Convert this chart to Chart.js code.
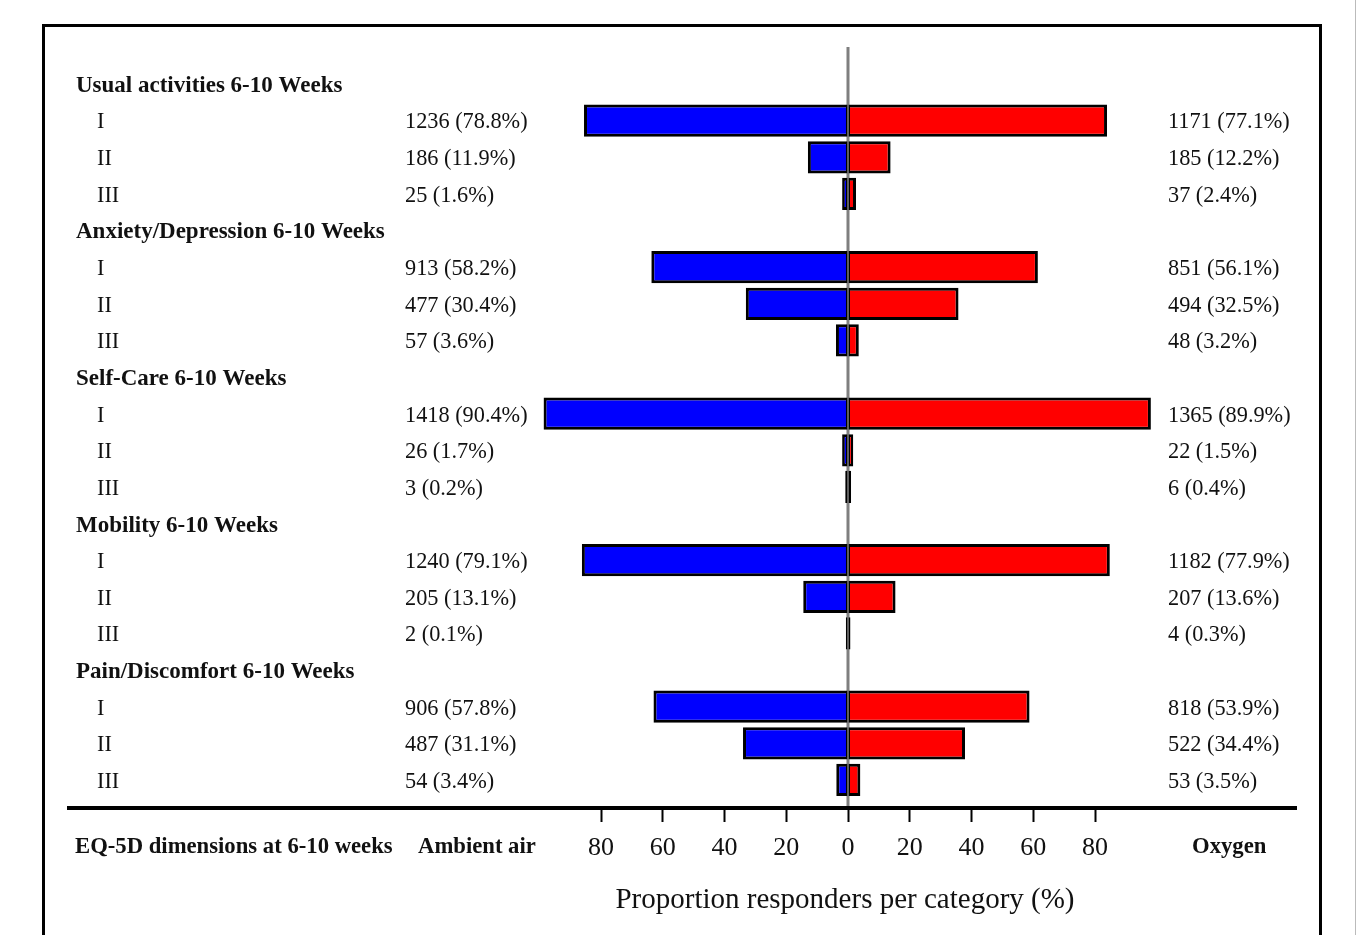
<!doctype html>
<html lang="en">
<head>
<meta charset="utf-8">
<title>EQ-5D dimensions at 6-10 weeks</title>
<script src="https://cdn.jsdelivr.net/npm/chart.js"></script>
<style>
  body { margin: 0; background: #fff; width: 1357px; height: 935px; overflow: hidden; position: relative; }
  #frame { position: absolute; left: 42px; top: 24px; width: 1274px; height: 1000px; border: 3px solid #000; }
  #edge { position: absolute; left: 1355px; top: 0; width: 1px; height: 935px; background: #bbb; }
  canvas { position: absolute; left: 0; top: 0; }
</style>
</head>
<body>
<div id="frame"></div>
<div id="edge"></div>
<canvas id="chart" width="1357" height="935"></canvas>
<script>
const dimensions = ['Usual activities 6-10 Weeks', 'Anxiety/Depression 6-10 Weeks', 'Self-Care 6-10 Weeks', 'Mobility 6-10 Weeks', 'Pain/Discomfort 6-10 Weeks'];
const levels = ['I', 'II', 'III'];
// bar lengths (% of responders per category)
const ambientBars = [85.5, 13.0, 1.9, 63.7, 33.1, 3.9, 98.6, 1.9, 0.9, 86.2, 14.5, 0.7, 63.0, 34.0, 3.8];
const oxygenBars = [83.9, 13.8, 2.6, 61.5, 35.8, 3.5, 98.1, 1.7, 1.0, 84.8, 15.4, 0.8, 58.8, 37.9, 4.0];
const ambientText = ['1236 (78.8%)', '186 (11.9%)', '25 (1.6%)', '913 (58.2%)', '477 (30.4%)', '57 (3.6%)', '1418 (90.4%)', '26 (1.7%)', '3 (0.2%)', '1240 (79.1%)', '205 (13.1%)', '2 (0.1%)', '906 (57.8%)', '487 (31.1%)', '54 (3.4%)'];
const oxygenText = ['1171 (77.1%)', '185 (12.2%)', '37 (2.4%)', '851 (56.1%)', '494 (32.5%)', '48 (3.2%)', '1365 (89.9%)', '22 (1.5%)', '6 (0.4%)', '1182 (77.9%)', '207 (13.6%)', '4 (0.3%)', '818 (53.9%)', '522 (34.4%)', '53 (3.5%)'];
const xTicks = [-80, -60, -40, -20, 0, 20, 40, 60, 80];

const serif = '"Liberation Serif", "Times New Roman", serif';

// row 0 = first heading, each dimension takes 4 rows (heading + I, II, III)
let rowOf = i => Math.floor(i / 3) * 4 + 1 + (i % 3);

const sideLabels = {
    id: 'sideLabels',
    beforeDatasetsDraw(chart) {
        // grey zero line, under the bars
        const ctx = chart.ctx;
        const x0 = chart.scales.x.getPixelForValue(0);
        ctx.save();
        ctx.strokeStyle = '#7f7f7f';
        ctx.lineWidth = 3;
        ctx.beginPath();
        ctx.moveTo(x0, chart.chartArea.top);
        ctx.lineTo(x0, chart.chartArea.bottom);
        ctx.stroke();
        ctx.restore();
    },
    afterDraw(chart) {
        const ctx = chart.ctx;
        const y = chart.scales.y;
        const bottom = chart.chartArea.bottom;
        ctx.save();
        ctx.fillStyle = '#111';
        ctx.textBaseline = 'middle';
        ctx.textAlign = 'left';
        dimensions.forEach((name, d) => {
            ctx.font = 'bold 23px ' + serif;
            ctx.fillText(name, 76, y.getPixelForValue(d * 4) + 2);
            ctx.font = '22.3px ' + serif;
            levels.forEach((lv, l) => {
                const i = d * 3 + l;
                const py = y.getPixelForValue(rowOf(i)) + 2;
                ctx.fillText(lv, 97, py);
                ctx.fillText(ambientText[i], 405, py);
                ctx.fillText(oxygenText[i], 1168, py);
            });
        });
        // long axis line under the whole table
        ctx.strokeStyle = '#000';
        ctx.lineWidth = 4;
        ctx.beginPath();
        ctx.moveTo(67, bottom);
        ctx.lineTo(1297, bottom);
        ctx.stroke();

        ctx.font = 'bold 22.7px ' + serif;
        ctx.fillText('EQ-5D dimensions at 6-10 weeks', 75, 847);
        ctx.fillText('Ambient air', 418, 847);
        ctx.fillText('Oxygen', 1192, 847);
        ctx.font = '29px ' + serif;
        ctx.textAlign = 'center';
        ctx.fillText('Proportion responders per category (%)', 845, 900);
        ctx.restore();
    }
};

new Chart(document.getElementById('chart'), {
    type: 'bar',
    data: {
        datasets: [{
            label: 'Ambient air',
            data: ambientBars.map((v, i) => ({ x: -v, y: rowOf(i) })),
            backgroundColor: '#0000ff',
            borderColor: '#000',
            borderWidth: { top: 3, bottom: 3, left: 3, right: 1.5 },
            borderSkipped: false,
            inflateAmount: 0
        }, {
            label: 'Oxygen',
            data: oxygenBars.map((v, i) => ({ x: v, y: rowOf(i) })),
            backgroundColor: '#ff0000',
            borderColor: '#000',
            borderWidth: { top: 3, bottom: 3, left: 1.5, right: 3 },
            borderSkipped: false,
            inflateAmount: 0
        }]
    },
    options: {
        indexAxis: 'y',
        responsive: false,
        animation: false,
        layout: { padding: { left: 539.25, right: 200.25, top: 47, bottom: 0 } },
        plugins: { legend: { display: false }, tooltip: { enabled: false } },
        datasets: { bar: { barPercentage: 0.88, categoryPercentage: 1 } },
        scales: {
            y: { type: 'linear', reverse: true, offset: false, min: -1.01, max: 19.765, stacked: true, display: false },
            x: {
                type: 'linear', min: -100, max: 100, stacked: true,
                afterBuildTicks: s => { s.ticks = xTicks.map(v => ({ value: v })); },
                afterFit: s => { s.height = 127; },
                border: { display: false },
                grid: {
                    drawOnChartArea: false,
                    tickColor: '#000',
                    tickWidth: 2,
                    tickLength: 14
                },
                ticks: {
                    callback: v => Math.abs(v),
                    font: { family: serif, size: 26 },
                    color: '#111',
                    padding: 11,
                    maxRotation: 0,
                    autoSkip: false
                }
            }
        }
    },
    plugins: [sideLabels]
});
</script>
</body>
</html>
